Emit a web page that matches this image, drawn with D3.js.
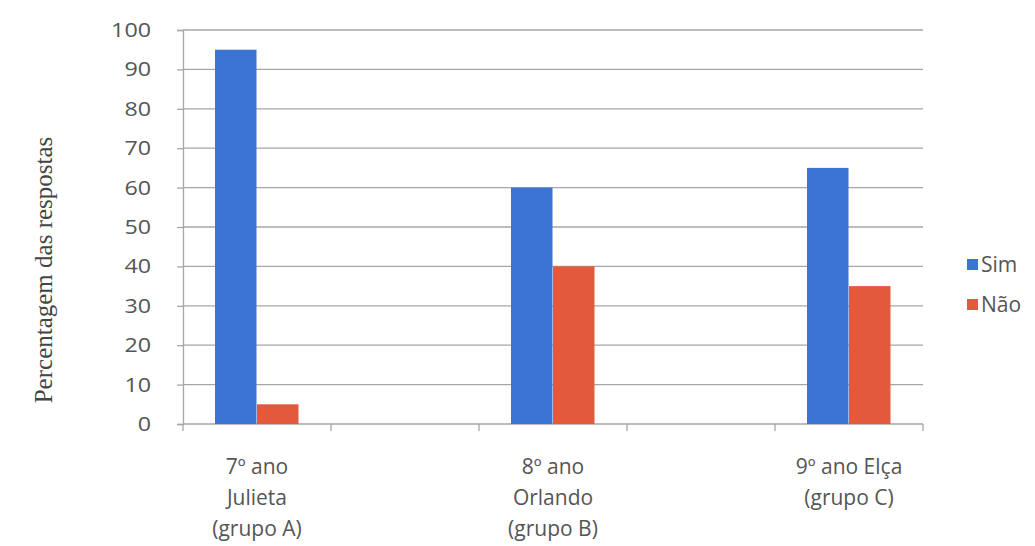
<!DOCTYPE html>
<html><head><meta charset="utf-8">
<script src="https://cdn.jsdelivr.net/npm/d3@7"></script>
<style>body{margin:0;background:#fff}svg{display:block}</style>
</head><body>
<script>
const categories = ["7º ano|Julieta|(grupo A)", "", "8º ano|Orlando|(grupo B)", "", "9º ano Elça|(grupo C)"];
const seriesNames = ["Sim", "Não"];
const sim = [95, null, 60, null, 65];
const nao = [5, null, 40, null, 35];
const yTicks = [0,10,20,30,40,50,60,70,80,90,100];
const colors = ["#3b74d2", "#e2593e"];

(function(){
const W = 1035, H = 546;
const FONT = "'Open Sans', sans-serif";
const svg = d3.select("body").append("svg").attr("width", W).attr("height", H);
const mLeft = 183, mRight = 923, mTop = 30, mBottom = 424;

const x = d3.scaleBand().domain(d3.range(categories.length)).range([mLeft, mRight]).paddingInner(0).paddingOuter(0);
const y = d3.scaleLinear().domain([0, 100]).range([mBottom, mTop]);
const barW = 42;
const xs = d3.scaleBand().domain([0,1]).range([0, barW*2]);

svg.append("g").selectAll("line").data(yTicks.filter(d=>d>0)).join("line")
  .attr("x1", mLeft).attr("x2", mRight).attr("y1", d=>y(d)).attr("y2", d=>y(d))
  .attr("stroke", "#a6a6a6").attr("stroke-width", 1.3);

const yAxis = svg.append("g").attr("transform", `translate(${mLeft},0)`)
  .call(d3.axisLeft(y).tickValues(yTicks).tickSize(6).tickPadding(26));
yAxis.select(".domain").attr("stroke", "#a6a6a6").attr("stroke-width", 1.3);
yAxis.selectAll(".tick line").attr("stroke", "#a6a6a6").attr("stroke-width", 1.3);
yAxis.selectAll("text").attr("fill", "#555").style("font-family", FONT).style("font-size", "20px")
  .attr("textLength", d => String(d).length * 13.3).attr("lengthAdjust", "spacingAndGlyphs");

svg.append("line").attr("x1", mLeft).attr("x2", mRight).attr("y1", mBottom).attr("y2", mBottom)
  .attr("stroke", "#a6a6a6").attr("stroke-width", 1.3);
const bounds = d3.range(categories.length + 1).map(i => i < categories.length ? x(i) : mRight);
svg.append("g").selectAll("line").data(bounds).join("line")
  .attr("x1", d=>d).attr("x2", d=>d).attr("y1", mBottom).attr("y2", mBottom+7)
  .attr("stroke", "#a6a6a6").attr("stroke-width", 1.3);

[sim, nao].forEach((vals, si) => {
  svg.append("g").selectAll("rect").data(vals.map((v,i)=>({v,i})).filter(d=>d.v!=null)).join("rect")
    .attr("x", d => x(d.i) + x.bandwidth()/2 - barW + xs(si))
    .attr("width", barW - 0.5)
    .attr("y", d => y(d.v))
    .attr("height", d => y(0) - y(d.v))
    .attr("fill", colors[si]);
});

categories.forEach((c, i) => {
  if (!c) return;
  const t = svg.append("text").attr("text-anchor", "middle").attr("fill", "#555")
    .style("font-family", FONT).style("font-size", "21px");
  c.split("|").forEach((line, k) => {
    t.append("tspan").attr("x", x(i) + x.bandwidth()/2).attr("y", 474 + k*31).text(line);
  });
});

svg.append("text").attr("transform", "translate(52,270) rotate(-90)").attr("text-anchor", "middle")
  .attr("fill", "#444").style("font-family", "'Liberation Serif', serif").style("font-size", "25px")
  .text("Percentagem das respostas");

seriesNames.forEach((n, i) => {
  const ly = 265 + i*40;
  svg.append("rect").attr("x", 967).attr("y", ly-6).attr("width", 11).attr("height", 11).attr("fill", colors[i]);
  svg.append("text").attr("x", 981).attr("y", ly+7).attr("fill", "#555")
    .style("font-family", FONT).style("font-size", "21px").text(n);
});
})();
</script>
</body></html>
